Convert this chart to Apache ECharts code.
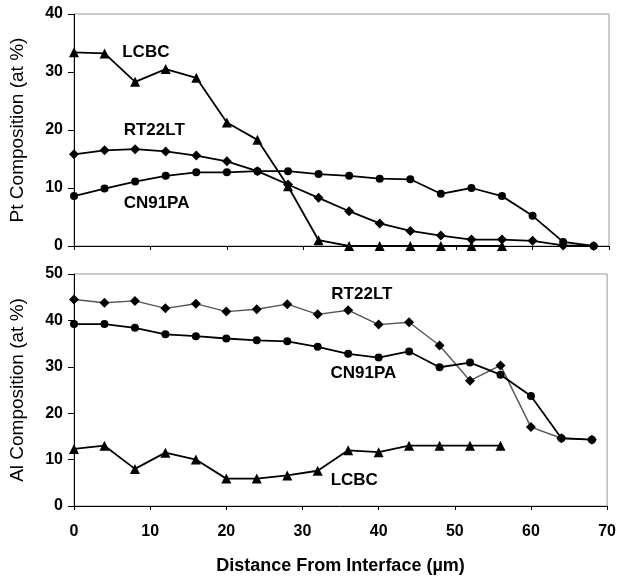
<!DOCTYPE html>
<html>
<head>
<meta charset="utf-8">
<script src="https://cdn.jsdelivr.net/npm/echarts@6/dist/echarts.min.js"></script>
<style>
  html, body { margin: 0; padding: 0; background: #fff; }
  #main { width: 619px; height: 580px; }
</style>
</head>
<body>
<div id="main"></div>
<script type="text/javascript">
// distance from interface (um)
var distance = [0, 4, 8, 12, 16, 20, 24, 28, 32, 36, 40, 44, 48, 52, 56, 60, 64, 68];

// Pt composition (at %)
var ptLCBC   = [33.4, 33.2, 28.3, 30.5, 29.0, 21.3, 18.3, 10.3, 1.0, 0, 0, 0, 0, 0, 0];
var ptRT22LT = [15.8, 16.5, 16.7, 16.3, 15.6, 14.6, 12.9, 10.6, 8.3, 6.0, 3.9, 2.6, 1.8, 1.1, 1.1, 0.9, 0.1, 0];
var ptCN91PA = [8.6, 9.9, 11.1, 12.1, 12.7, 12.7, 12.9, 12.9, 12.4, 12.1, 11.6, 11.5, 9.0, 10.0, 8.6, 5.2, 0.7, 0];

// Al composition (at %)
var alRT22LT = [44.5, 43.8, 44.2, 42.6, 43.6, 41.9, 42.4, 43.5, 41.3, 42.2, 39.1, 39.6, 34.6, 27.0, 30.3, 17.0, 14.6, 14.3];
var alCN91PA = [39.2, 39.2, 38.4, 37.0, 36.6, 36.1, 35.7, 35.5, 34.3, 32.8, 32.0, 33.3, 29.9, 30.9, 28.3, 23.7, 14.6, 14.3];
var alLCBC   = [12.3, 13.0, 8.0, 11.5, 10.0, 5.9, 5.9, 6.6, 7.6, 12.0, 11.6, 13.0, 13.0, 13.0, 13.0];

// series labels (name, x, y) in data units
var ptLabels = [['LCBC', 9.4, 33.4], ['RT22LT', 10.5, 20.0], ['CN91PA', 10.8, 7.4]];
var alLabels = [['RT22LT', 37.8, 45.7], ['CN91PA', 38.0, 28.7], ['LCBC', 36.8, 5.5]];

var FONT = 'Liberation Sans, Arial, sans-serif';

function pairs(ys) {
  var out = [];
  for (var i = 0; i < ys.length; i++) out.push([distance[i], ys[i]]);
  return out;
}

function labelPoints(list) {
  return list.map(function (l) {
    return { name: l[0], coord: [l[1], l[2]] };
  });
}

function xAx(grid, showLabels) {
  return {
    type: 'value', gridIndex: grid, min: 0, max: 70, interval: 10,
    axisLine: { show: true, onZero: false, lineStyle: { color: '#000', width: 1 } },
    axisTick: { show: true, length: 4, lineStyle: { color: '#000' } },
    splitLine: { show: false },
    axisLabel: { show: showLabels, color: '#000', fontFamily: FONT, fontWeight: 'bold', fontSize: 16, margin: 18 },
    name: showLabels ? 'Distance From Interface (\u00b5m)' : '',
    nameLocation: 'middle', nameGap: 51,
    nameTextStyle: { color: '#000', fontFamily: FONT, fontWeight: 'bold', fontSize: 18 }
  };
}
function xInner(grid) {
  return {
    type: 'value', gridIndex: grid, min: 0, max: 70, interval: 10,
    axisLine: { show: false }, axisLabel: { show: false }, splitLine: { show: false },
    axisTick: { show: true, inside: true, length: 4, lineStyle: { color: '#000' } }
  };
}
function yAx(grid, max, title) {
  return {
    type: 'value', gridIndex: grid, min: 0, max: max, interval: 10,
    axisLine: { show: true, onZero: false, lineStyle: { color: '#000', width: 1 } },
    axisTick: { show: true, length: 6, lineStyle: { color: '#000' } },
    splitLine: { show: false },
    axisLabel: { color: '#000', fontFamily: FONT, fontWeight: 'bold', fontSize: 16, margin: 11 },
    name: title, nameLocation: 'middle', nameGap: 47,
    nameTextStyle: { color: '#000', fontFamily: FONT, fontSize: 19 }
  };
}
function yInner(grid, max) {
  return {
    type: 'value', gridIndex: grid, min: 0, max: max, interval: 10,
    axisLine: { show: false }, axisLabel: { show: false }, splitLine: { show: false },
    axisTick: { show: true, inside: true, length: 5, lineStyle: { color: '#000' } }
  };
}

function line(data, grid, symbol, size, color, width, labels) {
  var s = {
    type: 'line', xAxisIndex: grid, yAxisIndex: grid, data: data,
    symbol: symbol, symbolSize: size, showSymbol: true,
    lineStyle: { color: color, width: width },
    itemStyle: { color: '#000' },
    z: 3
  };
  if (labels) {
    s.markPoint = {
      symbol: 'circle', symbolSize: 1,
      itemStyle: { color: 'rgba(0,0,0,0)' },
      label: { show: true, position: 'inside', formatter: '{b}', color: '#000',
               fontFamily: FONT, fontWeight: 'bold', fontSize: 17 },
      data: labelPoints(labels)
    };
  }
  return s;
}

var myChart = echarts.init(document.getElementById('main'));
var option = {
  animation: false,
  backgroundColor: '#fff',
  grid: [
    { left: 74, right: 10, top: 14, height: 232, show: true, borderColor: '#999', borderWidth: 1 },
    { left: 74, right: 10, top: 274, height: 232, show: true, borderColor: '#999', borderWidth: 1 }
  ],
  xAxis: [xAx(0, false), xAx(1, true), xInner(0), xInner(1)],
  yAxis: [yAx(0, 40, 'Pt Composition (at %)'), yAx(1, 50, 'Al Composition (at %)'), yInner(0, 40), yInner(1, 50)],
  series: [
    line(pairs(ptLCBC), 0, 'triangle', 10, '#000', 1.8, ptLabels),
    line(pairs(ptRT22LT), 0, 'diamond', 10, '#000', 1.8),
    line(pairs(ptCN91PA), 0, 'circle', 8, '#000', 1.8),
    line(pairs(alRT22LT), 1, 'diamond', 10, '#555', 1.4, alLabels),
    line(pairs(alCN91PA), 1, 'circle', 8, '#000', 1.8),
    line(pairs(alLCBC), 1, 'triangle', 10, '#000', 1.8)
  ]
};
myChart.setOption(option);
</script>
</body>
</html>
